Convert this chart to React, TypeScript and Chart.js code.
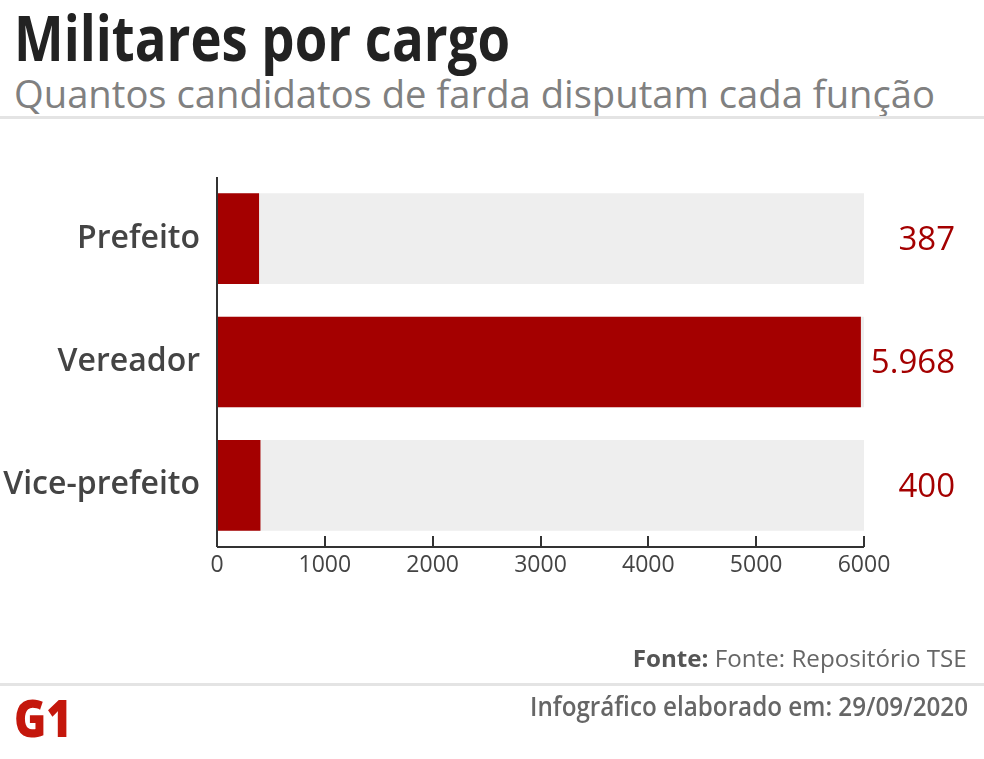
import React, { useEffect, useLayoutEffect, useRef } from "react";
import { Chart, registerables } from "chart.js";

Chart.register(...registerables);

const categories = ["Prefeito", "Vereador", "Vice-prefeito"];
const values = [387, 5968, 400];
const valueLabels = ["387", "5.968", "400"];
const fullValues = [6000, 6000, 6000];
const xTickValues = [0, 1000, 2000, 3000, 4000, 5000, 6000];

const RED = "#a40000";
const FONT = "'Open Sans', sans-serif";

type FitProps = {
  text: React.ReactNode;
  left?: number;
  right?: number;
  top: number;
  fontSize: number;
  weight: number;
  color: string;
  width: number;
};

function FitText({ text, left, right, top, fontSize, weight, color, width }: FitProps) {
  const ref = useRef<HTMLDivElement>(null);
  useLayoutEffect(() => {
    const el = ref.current;
    if (!el) return;
    el.style.transform = "none";
    const w = el.getBoundingClientRect().width;
    if (w > 0) el.style.transform = `scaleX(${width / w})`;
  }, [width]);
  const style: React.CSSProperties = {
    position: "absolute",
    top,
    fontFamily: FONT,
    fontSize,
    fontWeight: weight,
    color,
    lineHeight: 1,
    whiteSpace: "nowrap",
    transformOrigin: right !== undefined ? "right top" : "left top",
  };
  if (left !== undefined) style.left = left;
  if (right !== undefined) style.right = right;
  return (
    <div ref={ref} style={style}>
      {text}
    </div>
  );
}

export default function App() {
  const canvasRef = useRef<HTMLCanvasElement>(null);

  useEffect(() => {
    const canvas = canvasRef.current;
    if (!canvas) return;

    const decor = {
      id: "decor",
      afterDatasetsDraw(chart: any) {
        const { ctx, chartArea, scales } = chart;
        const xs = scales.x;
        const ys = scales.y;
        ctx.save();
        ctx.strokeStyle = "#333333";
        ctx.lineWidth = 2;
        ctx.beginPath();
        ctx.moveTo(chartArea.left, chartArea.top);
        ctx.lineTo(chartArea.left, chartArea.bottom);
        ctx.stroke();
        ctx.beginPath();
        ctx.moveTo(chartArea.left, chartArea.bottom);
        ctx.lineTo(chartArea.right, chartArea.bottom);
        ctx.stroke();
        xTickValues.forEach((v) => {
          const px = Math.round(xs.getPixelForValue(v));
          ctx.beginPath();
          ctx.moveTo(px, chartArea.bottom);
          ctx.lineTo(px, chartArea.bottom - 11);
          ctx.stroke();
        });
        ctx.fillStyle = RED;
        ctx.font = `500 33px ${FONT}`;
        ctx.textAlign = "right";
        ctx.textBaseline = "middle";
        valueLabels.forEach((lbl, i) => {
          ctx.fillText(lbl, 955, ys.getPixelForValue(i) + 2);
        });
        ctx.restore();
      },
    };

    const chart = new Chart(canvas, {
      type: "bar",
      data: {
        labels: categories,
        datasets: [
          {
            data: values,
            backgroundColor: RED,
            barThickness: 90,
            grouped: false,
            order: 0,
          } as any,
          {
            data: fullValues,
            backgroundColor: "#eeeeee",
            barThickness: 90,
            grouped: false,
            order: 1,
          } as any,
        ],
      },
      options: {
        indexAxis: "y",
        responsive: false,
        animation: false,
        layout: { padding: { top: 177, right: 120, bottom: 0, left: 0 } },
        plugins: {
          legend: { display: false },
          tooltip: { enabled: false },
        },
        scales: {
          x: {
            min: 0,
            max: 6000,
            grid: { display: false, drawTicks: false },
            border: { display: false },
            ticks: {
              stepSize: 1000,
              color: "#444444",
              padding: 5,
              font: { family: FONT, size: 23, weight: "500" },
              maxRotation: 0,
              callback: (v: any) => String(v),
            },
            afterFit(scale: any) {
              scale.height = 212;
            },
          },
          y: {
            grid: { display: false, drawTicks: false },
            border: { display: false },
            ticks: {
              color: "#444444",
              padding: 17,
              font: { family: FONT, size: 32, weight: "600" },
            },
            afterFit(scale: any) {
              scale.width = 217;
            },
          },
        },
      } as any,
      plugins: [decor],
    });
    return () => chart.destroy();
  }, []);

  return (
    <div
      style={{
        position: "absolute",
        left: 0,
        top: 0,
        width: 984,
        height: 759,
        background: "#ffffff",
        overflow: "hidden",
      }}
    >
      <FitText text="Militares por cargo" left={14} top={5} fontSize={63} weight={700} color="#222222" width={496} />
      <FitText
        text="Quantos candidatos de farda disputam cada função"
        left={14}
        top={73}
        fontSize={39}
        weight={500}
        color="#808080"
        width={921}
      />
      <div style={{ position: "absolute", left: 0, top: 116, width: 984, height: 3, background: "#e4e4e4" }} />
      <canvas
        ref={canvasRef}
        width={984}
        height={759}
        style={{ position: "absolute", left: 0, top: 0, width: 984, height: 759 }}
      />
      <FitText
        text={
          <>
            <span style={{ fontWeight: 700, color: "#555555" }}>Fonte:</span> Fonte: Repositório TSE
          </>
        }
        right={17}
        top={646}
        fontSize={24}
        weight={400}
        color="#666666"
        width={334}
      />
      <div style={{ position: "absolute", left: 0, top: 683, width: 984, height: 3, background: "#e4e4e4" }} />
      <FitText
        text="Infográfico elaborado em: 29/09/2020"
        right={16}
        top={692}
        fontSize={27}
        weight={600}
        color="#666666"
        width={438}
      />
      <FitText text="G1" left={14} top={691} fontSize={52} weight={800} color="#c4170c" width={58} />
    </div>
  );
}
